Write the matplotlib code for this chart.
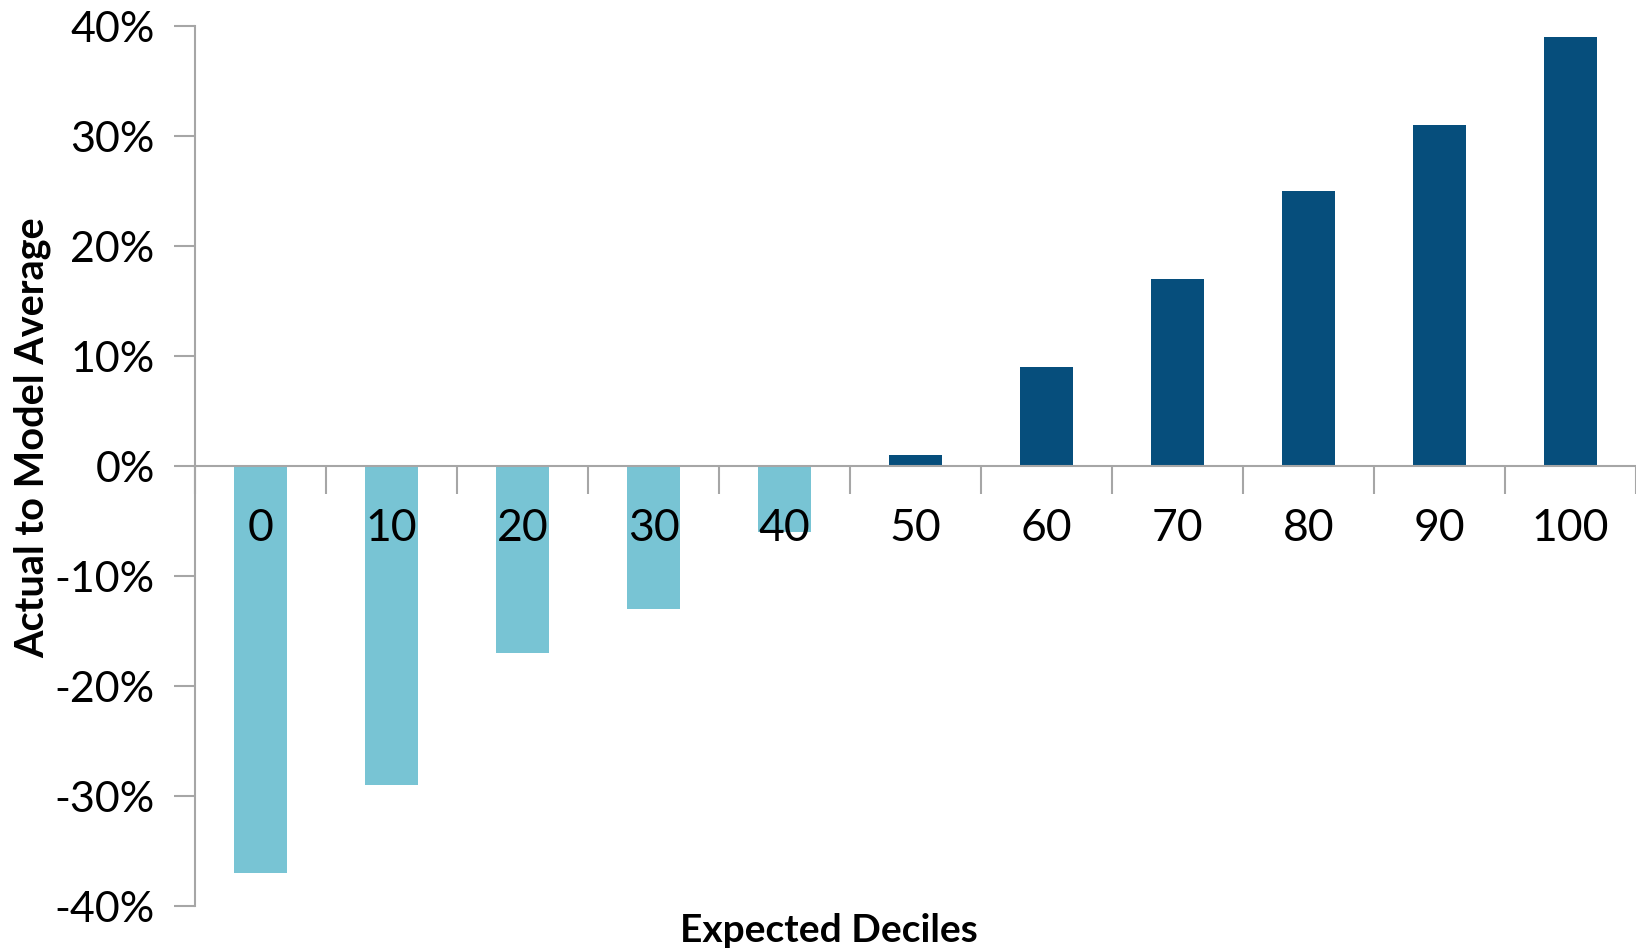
import matplotlib.pyplot as plt
from matplotlib.ticker import FixedLocator, FuncFormatter

# Deciles and actual-to-model averages (in percent)
deciles = ["0", "10", "20", "30", "40", "50", "60", "70", "80", "90", "100"]
actual_to_model = [-37, -29, -17, -13, -6, 1, 9, 17, 25, 31, 39]

light_blue = "#78C4D4"
dark_blue = "#064E7C"
axis_grey = "#A6A6A6"

plt.rcParams["font.family"] = ["Lato", "DejaVu Sans"]

fig = plt.figure(figsize=(16.36, 9.48), dpi=100)
ax = fig.add_axes([195 / 1636, 42 / 948, 1441 / 1636, 880 / 948])

positions = list(range(len(deciles)))
colors = [light_blue if v < 0 else dark_blue for v in actual_to_model]
ax.bar(positions, actual_to_model, width=0.4, color=colors, zorder=1)

ax.set_xlim(-0.5, len(deciles) - 0.5)
ax.set_ylim(-40, 40)

# y axis: percent ticks every 10
ax.set_yticks(range(-40, 41, 10))
ax.yaxis.set_major_formatter(FuncFormatter(lambda v, p: f"{v:.0f}%"))
ax.tick_params(axis="y", labelsize=31, length=15, width=1.5, color=axis_grey, pad=14)

# x axis sits on zero, tick marks between categories, labels under each bar
ax.spines["bottom"].set_position(("data", 0))
ax.set_xticks(positions)
ax.set_xticklabels(deciles)
ax.xaxis.set_minor_locator(FixedLocator([p - 0.5 for p in positions] + [len(deciles) - 0.5]))
ax.tick_params(axis="x", which="major", length=0, labelsize=32, pad=30)
ax.tick_params(axis="x", which="minor", length=20, width=1.5, color=axis_grey)

for side in ["top", "right"]:
    ax.spines[side].set_visible(False)
for side in ["left", "bottom"]:
    ax.spines[side].set_color(axis_grey)
    ax.spines[side].set_linewidth(1.5)

ax.set_xlabel("Expected Deciles", fontsize=28, fontweight="bold")
ax.xaxis.set_label_coords(0.44, -0.008)
ax.set_ylabel("Actual to Model Average", fontsize=28.5, fontweight="bold")
ax.yaxis.set_label_coords(-0.1, 0.532)

fig.savefig("out.png", dpi=100)
